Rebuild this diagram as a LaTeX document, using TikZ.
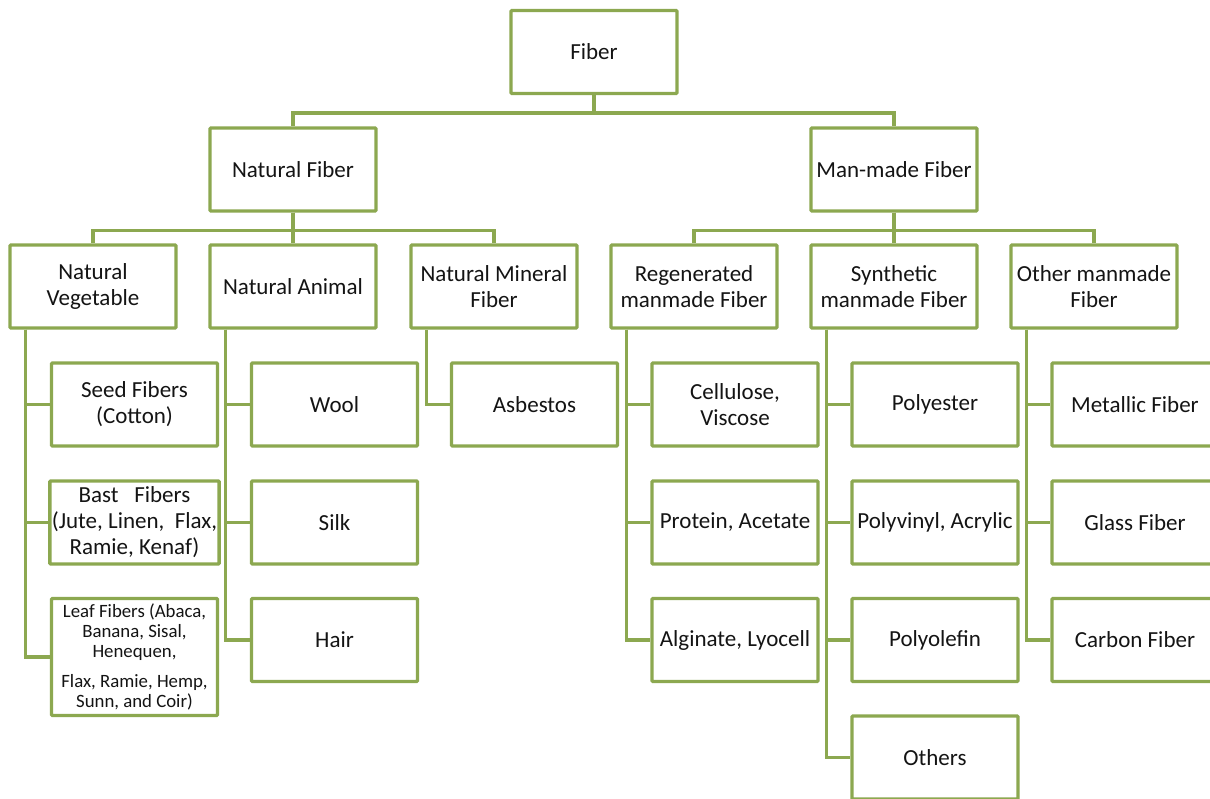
\documentclass[tikz,border=0pt]{standalone}
\usepackage{fontspec}
\setmainfont{Carlito}
\definecolor{fgreen}{RGB}{140,168,80}
\definecolor{ftext}{RGB}{20,20,20}
\begin{document}
\begin{tikzpicture}[x=1pt,y=-1pt,
  fbox/.style={draw=fgreen, line width=3.4pt, rounded corners=1pt, fill=white,
    minimum width=166pt, minimum height=83pt, align=center, inner sep=2pt,
    text=ftext, font=\fontsize{23}{26}\selectfont},
  conn/.style={draw=fgreen, line width=3.4pt}]
\useasboundingbox (0,0) rectangle (1210,799);
\clip (0,0) rectangle (1210,799);
\fill[white] (0,0) rectangle (1210,799);
% level 0
\node[fbox] (fiber) at (594,52) {Fiber};
% level 1
\node[fbox] (nf) at (293,169.5) {Natural Fiber};
\node[fbox] (mf) at (894,169.5) {Man-made Fiber};
% level 2
\node[fbox] (nv) at (93,286.5) {Natural\\Vegetable};
\node[fbox] (na) at (293,286.5) {Natural Animal};
\node[fbox] (nm) at (494,286.5) {Natural Mineral\\Fiber};
\node[fbox] (rg) at (694,286.5) {Regenerated\\manmade Fiber};
\node[fbox] (sy) at (894,286.5) {Synthetic\\manmade Fiber};
\node[fbox] (ot) at (1094,286.5) {Other manmade\\Fiber};
% level 3 : natural vegetable
\node[fbox] (seed) at (134.5,404.5) {Seed Fibers\\(Cotton)};
\node[fbox] (bast) at (134.5,522.5) {Bast\ \ \ Fibers\\(Jute, Linen,\ \ Flax,\\Ramie, Kenaf)};
\node[fbox, minimum height=117pt, font=\fontsize{18.8}{20}\selectfont] (leaf) at (134.5,657)
  {Leaf Fibers (Abaca,\\Banana, Sisal,\\Henequen,\\[10pt]Flax, Ramie, Hemp,\\Sunn, and Coir)};
% natural animal
\node[fbox] (wool) at (334.5,404.5) {Wool};
\node[fbox] (silk) at (334.5,522.5) {Silk};
\node[fbox] (hair) at (334.5,640) {Hair};
% natural mineral
\node[fbox] (asb) at (534.5,404.5) {Asbestos};
% regenerated
\node[fbox] (cell) at (735,404.5) {Cellulose,\\Viscose};
\node[fbox] (prot) at (735,522.5) {Protein, Acetate};
\node[fbox] (algi) at (735,640) {Alginate, Lyocell};
% synthetic
\node[fbox] (pest) at (935,404.5) {Polyester};
\node[fbox] (pvin) at (935,522.5) {Polyvinyl,\ Acrylic};
\node[fbox] (pole) at (935,640) {Polyolefin};
\node[fbox] (oths) at (935,757.5) {Others};
% other manmade
\node[fbox] (metal) at (1135,404.5) {Metallic Fiber};
\node[fbox] (glass) at (1135,522.5) {Glass Fiber};
\node[fbox] (carb) at (1135,640) {Carbon Fiber};
% connectors level 0 -> 1
\draw[conn] (fiber.south) -- ++(0,18) -| (nf.north);
\draw[conn] (fiber.south) -- ++(0,18) -| (mf.north);
% level 1 -> 2
\foreach \c in {nv,na,nm} \draw[conn] (nf.south) -- ++(0,18) -| (\c.north);
\foreach \c in {rg,sy,ot} \draw[conn] (mf.south) -- ++(0,18) -| (\c.north);
% level 2 -> 3
\foreach \c in {seed,bast,leaf} \draw[conn] ([xshift=17pt]nv.south west) |- (\c.west);
\foreach \c in {wool,silk,hair} \draw[conn] ([xshift=17pt]na.south west) |- (\c.west);
\foreach \c in {asb} \draw[conn] ([xshift=17pt]nm.south west) |- (\c.west);
\foreach \c in {cell,prot,algi} \draw[conn] ([xshift=17pt]rg.south west) |- (\c.west);
\foreach \c in {pest,pvin,pole,oths} \draw[conn] ([xshift=17pt]sy.south west) |- (\c.west);
\foreach \c in {metal,glass,carb} \draw[conn] ([xshift=17pt]ot.south west) |- (\c.west);
\end{tikzpicture}
\end{document}
